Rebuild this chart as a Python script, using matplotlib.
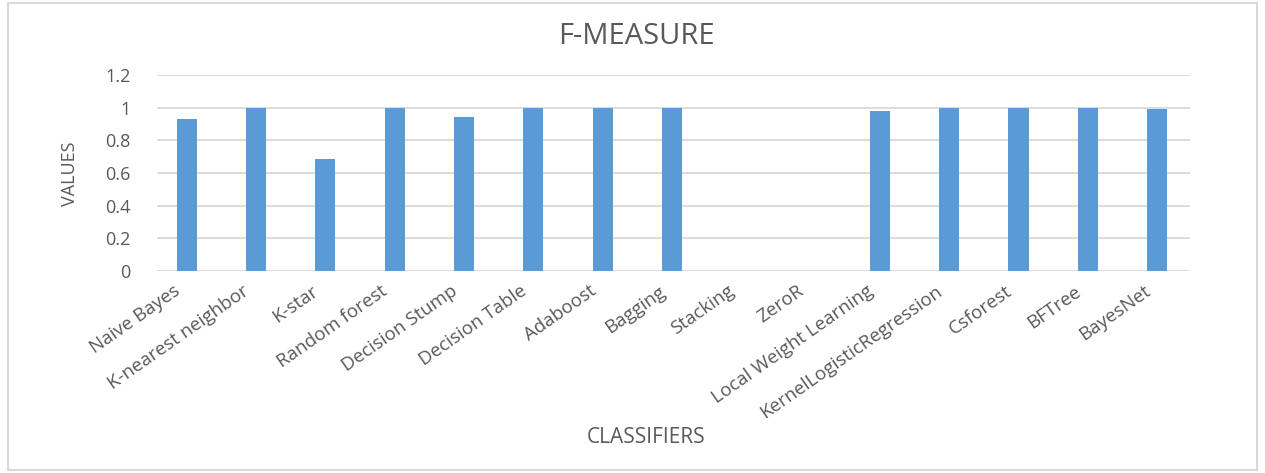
import matplotlib
matplotlib.use("Agg")
import matplotlib.pyplot as plt
import matplotlib.transforms as mtransforms
import numpy as np

# Data.
classifiers = ["Naive Bayes", "K-nearest neighbor", "K-star", "Random forest",
               "Decision Stump", "Decision Table", "Adaboost", "Bagging",
               "Stacking", "ZeroR", "Local Weight Learning",
               "KernelLogisticRegression", "Csforest", "BFTree", "BayesNet"]
f_measure = [0.932, 1.0, 0.687, 1.0, 0.945, 1.0, 1.0, 1.0,
             0.0, 0.0, 0.979, 1.0, 1.0, 1.0, 0.994]
yticks = [0, 0.2, 0.4, 0.6, 0.8, 1, 1.2]
ytick_labels = ["0", "0.2", "0.4", "0.6", "0.8", "1", "1.2"]

plt.rcParams["font.family"] = ["Open Sans", "DejaVu Sans"]
text_color = "#595959"

fig = plt.figure(figsize=(12.65, 4.73), dpi=100)
ax = fig.add_axes([0.124, 0.427, 0.817, 0.414])

x = np.arange(len(classifiers))
ax.bar(x, f_measure, width=0.29, color="#5b9bd5", zorder=3)

ax.set_xlim(-0.43, len(classifiers) - 1 + 0.48)
ax.set_ylim(0, 1.2)
ax.set_yticks(yticks)
ax.set_yticklabels(ytick_labels)
ax.set_xticks(x)
ax.set_xticklabels(classifiers, rotation=35, ha="right", rotation_mode="anchor")
ax.tick_params(axis="both", length=0, colors=text_color, labelsize=13)
ax.tick_params(axis="x", labelsize=13.5, pad=8)
ax.tick_params(axis="y", pad=19)

# nudge the slanted labels a little to the left, as in the original
shift = mtransforms.ScaledTranslation(-10 / 72, 0, fig.dpi_scale_trans)
for lbl in ax.get_xticklabels():
    lbl.set_transform(lbl.get_transform() + shift)

ax.grid(axis="y", color="#d9d9d9", linewidth=1.3, zorder=0)
for side in ["top", "right", "left", "bottom"]:
    ax.spines[side].set_visible(False)

fig.text(0.503, 0.922, "F-MEASURE", ha="center", va="center",
         color=text_color, fontsize=21)
fig.text(0.511, 0.074, "CLASSIFIERS", ha="center", va="center",
         color=text_color, fontsize=15)
fig.text(0.055, 0.632, "VALUES", ha="center", va="center", rotation=90,
         color=text_color, fontsize=13)

# Light frame around the chart area.
frame = plt.Rectangle((0.006, 0.006), 0.988, 0.988, transform=fig.transFigure,
                      fill=False, edgecolor="#d9d9d9", linewidth=1.5)
fig.patches.append(frame)

fig.savefig("out.png", dpi=100)
